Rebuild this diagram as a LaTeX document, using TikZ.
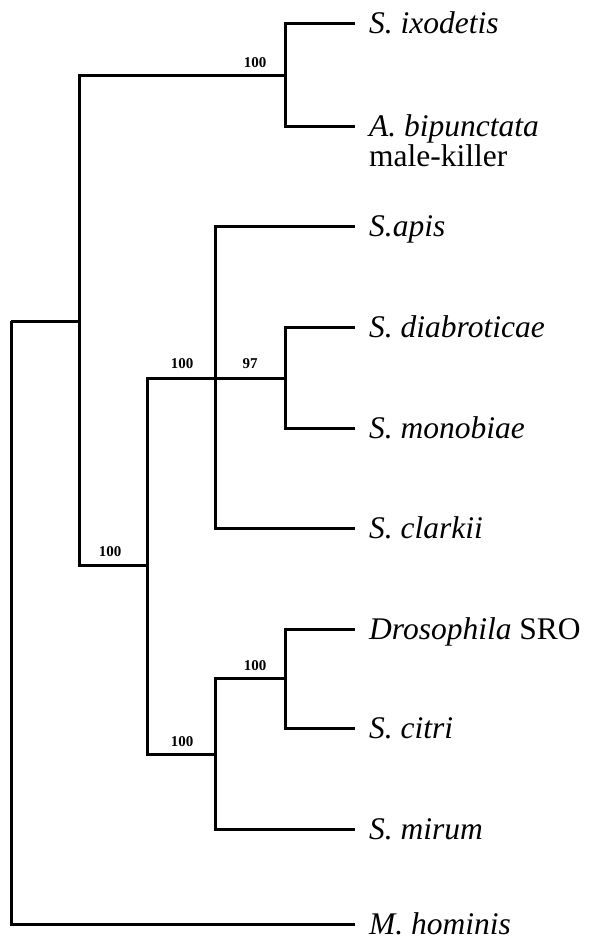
\documentclass[tikz,border=0pt]{standalone}
\usepackage{fontspec}
\setmainfont{Liberation Serif}
\begin{document}
\begin{tikzpicture}[x=1pt,y=-1pt,
  branch/.style={line width=3pt},
  leaf/.style={anchor=west, inner xsep=14pt, inner ysep=0pt, text height=20pt, text depth=0pt, font=\fontsize{31.5}{34}\selectfont},
  note/.style={anchor=base west, inner sep=0pt, font=\fontsize{31.5}{34}\selectfont},
  boot/.style={font=\fontsize{15}{15}\selectfont\bfseries, inner sep=0pt}]
\useasboundingbox (0,0) rectangle (589,940);
% internal nodes
\coordinate (r)  at (11,321);
\coordinate (n1) at (79,321);
\coordinate (nA) at (285,75);
\coordinate (nB) at (147,565);
\coordinate (nC) at (215,378);
\coordinate (nD) at (285,378);
\coordinate (nE) at (215,754);
\coordinate (nF) at (285,678);
% leaves
\node[leaf] (ixo) at (355,23)  {\textit{S. ixodetis}};
\node[leaf] (bip) at (355,126) {\textit{A. bipunctata}};
\node[note] (mk) at ([xshift=14pt,yshift=-30.5pt]bip.base west) {male-killer};
\node[leaf] (api) at (355,226) {\textit{S.apis}};
\node[leaf] (dia) at (355,327) {\textit{S. diabroticae}};
\node[leaf] (mon) at (355,428) {\textit{S. monobiae}};
\node[leaf] (cla) at (355,528) {\textit{S. clarkii}};
\node[leaf] (dro) at (355,629) {\textit{Drosophila} SRO};
\node[leaf] (cit) at (355,728) {\textit{S. citri}};
\node[leaf] (mir) at (355,829) {\textit{S. mirum}};
\node[leaf] (hom) at (355,924) {\textit{M. hominis}};
% branches
\draw[branch] (r) |- (n1);
\draw[branch] (r) |- (hom.west);
\draw[branch] (n1) |- (nA);
\draw[branch] (n1) |- (nB);
\draw[branch] (nA) |- (ixo.west);
\draw[branch] (nA) |- (bip.west);
\draw[branch] (nB) |- (nC);
\draw[branch] (nB) |- (nE);
\draw[branch] (nC) |- (api.west);
\draw[branch] (nC) -- (nD);
\draw[branch] (nC) |- (cla.west);
\draw[branch] (nD) |- (dia.west);
\draw[branch] (nD) |- (mon.west);
\draw[branch] (nE) |- (nF);
\draw[branch] (nE) |- (mir.west);
\draw[branch] (nF) |- (dro.west);
\draw[branch] (nF) |- (cit.west);
% bootstrap values
\node[boot] (b1) at (255,63)  {100};
\node[boot] (b2) at (110,552) {100};
\node[boot] (b3) at (182,364) {100};
\node[boot] (b4) at (250,364) {97};
\node[boot] (b5) at (182,742) {100};
\node[boot] (b6) at (255,666) {100};
\end{tikzpicture}
\end{document}
